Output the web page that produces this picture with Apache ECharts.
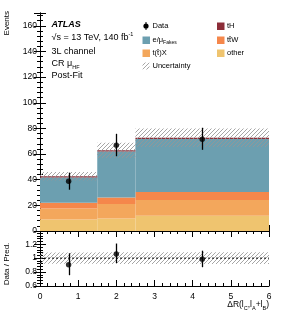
<!DOCTYPE html>
<html><head><meta charset="utf-8">
<script src="https://cdn.jsdelivr.net/npm/echarts@6/dist/echarts.min.js"></script>
<style>html,body{margin:0;padding:0;background:#fff}#c{width:284px;height:320px}</style>
</head><body><div id="c"></div>
<script>
// ---- data ----
const binLo = [0, 1.5, 2.5];
const binHi = [1.5, 2.5, 6];
const otherVals = [9.0, 9.7, 11.8];
const ttXVals = [8.6, 11.3, 12.4];
const ttWVals = [4.4, 5.2, 6.2];
const fakesVals = [19.7, 35.7, 41.4];
const tHVals = [1.0, 1.0, 1.0];
const uncVals = [3.4, 5.9, 7.2];
const dataX = [0.75, 2.0, 4.25];
const dataVals = [38.8, 66.8, 71.5];
const dataErrLo = [32.2, 58.3, 63.3];
const dataErrHi = [45.5, 75.8, 80.5];
const ratioVals = [0.905, 1.06, 0.986];
const ratioErrLo = [0.755, 0.93, 0.87];
const ratioErrHi = [1.07, 1.21, 1.107];
const ratioBandLo = [0.92, 0.915, 0.915];
const ratioBandHi = [1.08, 1.085, 1.085];
const mainYTicks = [0, 20, 40, 60, 80, 100, 120, 140, 160];
const ratioYTicks = [0.6, 0.8, 1, 1.2];
const xTicks = [0, 1, 2, 3, 4, 5, 6];

const FONT = '"Liberation Sans", Arial, sans-serif';
const colors = {other:'#efc46f', ttX:'#f3a75c', ttW:'#f5874b', fakes:'#6c9fb0', tH:'#8c2d38'};

// hatch pattern
function hatch(color){
  const c = document.createElement('canvas'); c.width = 4; c.height = 4;
  const g = c.getContext('2d'); g.strokeStyle = color; g.lineWidth = 1;
  g.beginPath(); g.moveTo(0,4); g.lineTo(4,0); g.moveTo(-1,1); g.lineTo(1,-1); g.moveTo(3,5); g.lineTo(5,3); g.stroke();
  return {image: c, repeat: 'repeat'};
}
const hatchMain = hatch('rgba(150,150,150,0.85)');
const hatchRatio = hatch('rgba(150,150,150,0.85)');

// stacked components
const comps = [['other', otherVals], ['ttX', ttXVals], ['ttW', ttWVals], ['fakes', fakesVals], ['tH', tHVals]];
const cum = [0,0,0];
const stackSeries = comps.map(([k, vals]) => {
  const d = vals.map((v,i) => { const r = [binLo[i], binHi[i], cum[i], cum[i]+v]; cum[i] += v; return r; });
  return {type:'custom', name:k, xAxisIndex:0, yAxisIndex:0, data:d, z:2, silent:true,
    renderItem: rectRender(colors[k])};
});
const totals = cum.slice();

function rectRender(fill){
  return function(params, api){
    const p0 = api.coord([api.value(0), api.value(3)]);
    const p1 = api.coord([api.value(1), api.value(2)]);
    return {type:'rect', shape:{x:p0[0], y:p0[1], width:p1[0]-p0[0], height:p1[1]-p0[1]}, style:{fill:fill}};
  };
}
function errRender(params, api){
  const a = api.coord([api.value(0), api.value(1)]);
  const b = api.coord([api.value(0), api.value(2)]);
  return {type:'line', shape:{x1:Math.round(a[0])+0.5, y1:a[1], x2:Math.round(b[0])+0.5, y2:b[1]}, style:{stroke:'#000', lineWidth:1.3}};
}

const uncBand = totals.map((t,i) => [binLo[i], binHi[i], t-uncVals[i], t+uncVals[i]]);
const ratioBand = ratioBandLo.map((l,i) => [binLo[i], binHi[i], l, ratioBandHi[i]]);

const axisLine = {show:true, lineStyle:{color:'#000', width:1}};
function xAx(grid, pos, labels){
  return {type:'value', gridIndex:grid, position:pos, min:0, max:6, interval:1,
    axisLine:axisLine, splitLine:{show:false},
    axisTick:{show:true, inside:true, length:6, lineStyle:{color:'#000'}},
    minorTick:{show:true, splitNumber:5, length:3, lineStyle:{color:'#000'}},
    axisLabel:{show:labels, color:'#000', fontFamily:FONT, fontSize:8.5, margin:6}};
}
function yAx(grid, pos, min, max, interval, labels, fmt){
  return {type:'value', gridIndex:grid, position:pos, min:min, max:max, interval:interval,
    axisLine:axisLine, splitLine:{show:false},
    axisTick:{show:true, inside:true, length:6, lineStyle:{color:'#000'}},
    minorTick:{show:true, splitNumber:5, length:3, lineStyle:{color:'#000'}},
    axisLabel:{show:labels, color:'#000', fontFamily:FONT, fontSize:8.5, margin:3,
      formatter: fmt, showMaxLabel: false}};
}

const legendLeft = [
  {y:26, kind:'data', rich:'Data'},
  {y:40, kind:'fakes', rich:'e/μ{sub|Fakes}'},
  {y:53, kind:'ttX', rich:'t(t\u0304)X'},
  {y:66, kind:'unc', rich:'Uncertainty'}
];
const legendRight = [
  {y:26, kind:'tH', rich:'tH'},
  {y:40, kind:'ttW', rich:'tt\u0304W'},
  {y:53, kind:'other', rich:'other'}
];
const graphics = [];
function legItem(x, it){
  if (it.kind === 'data'){
    graphics.push({type:'circle', shape:{cx:x+3.5, cy:it.y, r:2.6}, style:{fill:'#000'}});
    graphics.push({type:'line', shape:{x1:x+3.5, y1:it.y-4, x2:x+3.5, y2:it.y+4}, style:{stroke:'#000', lineWidth:1}});
  } else if (it.kind === 'unc'){
    graphics.push({type:'rect', shape:{x:x, y:it.y-3.5, width:7, height:7}, style:{fill:hatchMain}});
  } else {
    graphics.push({type:'rect', shape:{x:x, y:it.y-3.5, width:7.5, height:7.5}, style:{fill:colors[it.kind]}});
  }
  graphics.push({type:'text', x:x+10, y:it.y, style:{text:it.rich, fill:'#000', font:'7.5px '+FONT, verticalAlign:'middle',
    rich:{sub:{fontSize:5, fontFamily:FONT, padding:[6,0,0,0], fill:'#000'}}}});
}
legendLeft.forEach(it => legItem(142.5, it));
legendRight.forEach(it => legItem(217, it));

const labelLines = [
  {y:25, text:'ATLAS', font:'italic bold 9px '+FONT},
  {y:38, text:'\u221As = 13 TeV, 140 fb{sup|-1}', font:'9px '+FONT},
  {y:51.5, text:'3L channel', font:'9px '+FONT},
  {y:64, text:'CR μ{sub|HF}', font:'9px '+FONT},
  {y:75.5, text:'Post-Fit', font:'9px '+FONT}
];
labelLines.forEach(l => graphics.push({type:'text', x:51.5, y:l.y, style:{text:l.text, font:l.font, fill:'#000', verticalAlign:'middle',
  rich:{sup:{fontSize:5.5, fontFamily:FONT, padding:[0,0,7,0], fill:'#000'}, sub:{fontSize:5.5, fontFamily:FONT, padding:[7,0,0,0], fill:'#000'}}}}));

graphics.push({type:'text', x:7, y:11, rotation:Math.PI/2, style:{text:'Events', font:'8px '+FONT, fill:'#000', align:'right', verticalAlign:'middle'}});
graphics.push({type:'text', x:7, y:264, rotation:Math.PI/2, style:{text:'Data / Pred.', font:'8px '+FONT, fill:'#000', align:'center', verticalAlign:'middle'}});
graphics.push({type:'text', x:269, y:305, style:{text:'ΔR(l{sub|C},l{sub|A}+l{sub|B})', font:'8.5px '+FONT, fill:'#000', align:'right', verticalAlign:'middle',
  rich:{sub:{fontSize:5.5, fontFamily:FONT, padding:[6,0,0,0], fill:'#000'}}}});

const chart = echarts.init(document.getElementById('c'), null, {renderer:'canvas'});
chart.setOption({
  animation:false,
  backgroundColor:'#fff',
  textStyle:{fontFamily:FONT},
  grid:[{left:40, right:15, top:13, height:218}, {left:40, right:15, top:231, height:55}],
  xAxis:[xAx(0,'bottom',false), xAx(0,'top',false), xAx(1,'bottom',true), xAx(1,'top',false)],
  yAxis:[yAx(0,'left',0,170,20,true), yAx(0,'right',0,170,20,false),
         yAx(1,'left',0.6,1.39,0.2,true, v => (Math.abs(v-1)<1e-9 ? '1' : String(Math.round(v*10)/10))),
         yAx(1,'right',0.6,1.39,0.2,false)],
  series: stackSeries.concat([
    {type:'custom', name:'Uncertainty', xAxisIndex:0, yAxisIndex:0, data:uncBand, z:3, silent:true, renderItem: rectRender(hatchMain)},
    {type:'custom', name:'DataErr', xAxisIndex:0, yAxisIndex:0, z:4, silent:true,
      data: dataX.map((x,i) => [x, dataErrLo[i], dataErrHi[i]]), renderItem: errRender},
    {type:'scatter', name:'Data', xAxisIndex:0, yAxisIndex:0, z:5, symbol:'circle', symbolSize:5.5,
      itemStyle:{color:'#000'}, data: dataX.map((x,i) => [x, dataVals[i]])},
    {type:'custom', name:'RatioBand', xAxisIndex:2, yAxisIndex:2, data:ratioBand, z:2, silent:true, renderItem: rectRender(hatchRatio)},
    {type:'line', name:'One', xAxisIndex:2, yAxisIndex:2, z:3, symbol:'none', silent:true,
      lineStyle:{color:'#000', width:1, type:[2,2]}, data:[[0,1],[6,1]]},
    {type:'custom', name:'RatioErr', xAxisIndex:2, yAxisIndex:2, z:4, silent:true,
      data: dataX.map((x,i) => [x, ratioErrLo[i], ratioErrHi[i]]), renderItem: errRender},
    {type:'scatter', name:'Ratio', xAxisIndex:2, yAxisIndex:2, z:5, symbol:'circle', symbolSize:5.5,
      itemStyle:{color:'#000'}, data: dataX.map((x,i) => [x, ratioVals[i]])}
  ]),
  graphic: graphics
});
</script></body></html>
